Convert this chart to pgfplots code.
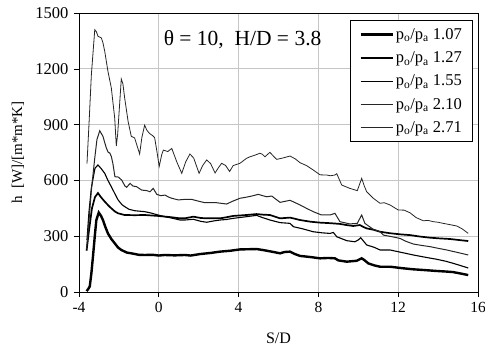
\documentclass[border=0pt]{standalone}
\usepackage{pgfplots}
\pgfplotsset{compat=1.18}
\usepackage{fontspec}
\setmainfont{Liberation Serif}
\begin{document}
\begin{tikzpicture}
\path[use as bounding box] (-79pt,-62pt) rectangle (406pt,292pt);
\begin{axis}[
  at={(0pt,0pt)}, anchor=south west,
  scale only axis, width=399pt, height=279pt,
  xmin=-4, xmax=16, ymin=0, ymax=1500,
  xtick={-4,0,4,8,12,16}, xticklabels={-4,0,4,8,12,16},
  ytick={0,300,600,900,1200,1500}, yticklabels={0,300,600,900,1200,1500},
  tick align=outside, major tick length=5pt,
  tick style={black, line width=0.6pt},
  xtick pos=bottom, ytick pos=left,
  grid=major, major grid style={gray!45, line width=0.7pt},
  axis line style={black, line width=0.8pt},
  xticklabel style={font=\fontsize{15.5}{17}\selectfont, yshift=-2pt},
  yticklabel style={font=\fontsize{16.5}{18}\selectfont, xshift=-2pt},
  xlabel={S/D}, ylabel={h\ \ [W]/[m*m*K]},
  every axis x label/.style={at={(axis description cs:0.5,-0.165)}, anchor=center, font=\fontsize{16}{18}\selectfont},
  every axis y label/.style={at={(axis description cs:-0.153,0.5)}, anchor=center, rotate=90, font=\fontsize{15}{17}\selectfont},
  legend style={at={(0.988,0.975)}, anchor=north east, draw=black, line width=0.8pt,
    font=\fontsize{16.5}{18}\selectfont, row sep=6.8pt, inner xsep=9pt, inner ysep=6pt,
    cells={anchor=west}},
  legend cell align=left,
  legend image code/.code={\draw[#1] (0pt,0pt) -- (32pt,0pt);},
]
\addplot[black, line width=2.4pt] coordinates {
(-3.62,5)(-3.55,14)(-3.46,30)(-3.38,100)(-3.3,190)(-3.2,310)(-3.13,387)(-3.01,427)
(-2.9,410)(-2.8,387)(-2.68,350)(-2.55,315)(-2.38,285)(-2.21,262)(-2.05,240)(-1.88,226)
(-1.6,212)(-1.38,208)(-1.0,200)(-0.71,199)(-0.3,200)(0.0,196)(0.29,199)(0.8,197)
(1.3,199)(1.6,196)(2.07,204)(2.6,210)(3.07,217)(3.6,222)(4.07,229)(4.5,230)(4.9,231)
(5.2,226)(5.41,222)(5.8,214)(6.08,208)(6.3,215)(6.58,217)(6.8,205)(7.08,194)(7.6,188)
(8.08,181)(8.5,183)(8.83,181)(9.0,170)(9.42,163)(9.92,168)(10.17,181)(10.3,172)(10.5,154)
(10.8,143)(11.09,136)(11.59,136)(12.2,128)(12.76,122)(13.3,118)(13.93,113)(14.4,110)
(14.76,107)(15.1,100)(15.51,91)};
\addlegendentry{p\textsubscript{o}/p\textsubscript{a} 1.07}
\addplot[black, line width=1.7pt] coordinates {
(-3.62,222)(-3.5,330)(-3.35,450)(-3.2,510)(-3.05,532)(-2.9,510)(-2.71,486)(-2.5,462)
(-2.38,450)(-2.2,433)(-2.04,423)(-1.71,414)(-1.2,413)(-0.71,414)(-0.04,409)(0.63,402)
(1.06,396)(1.3,396)(1.73,405)(2.1,398)(2.4,396)(3.07,396)(3.4,402)(3.73,409)(4.4,414)
(4.9,419)(5.2,416)(5.57,414)(6.08,396)(6.58,400)(7.08,387)(7.6,378)(8.08,373)(8.6,370)
(9.08,366)(9.4,360)(9.75,355)(10.08,360)(10.25,350)(10.42,342)(10.75,335)(11.09,324)
(11.59,316)(12.1,310)(12.59,306)(13.1,298)(13.59,292)(14.1,288)(14.59,285)(15.0,280)(15.51,274)};
\addlegendentry{p\textsubscript{o}/p\textsubscript{a} 1.27}
\addplot[black, line width=1.1pt] coordinates {
(-3.6,280)(-3.5,430)(-3.38,560)(-3.2,665)(-3.05,683)(-2.9,665)(-2.71,638)(-2.55,600)
(-2.38,566)(-2.2,528)(-2.04,495)(-1.85,470)(-1.71,459)(-1.5,445)(-1.21,437)(-0.71,432)
(-0.4,425)(-0.04,414)(0.3,405)(0.63,398)(1.06,387)(1.3,387)(1.73,391)(2.1,380)(2.4,375)
(2.75,382)(3.07,387)(3.4,390)(3.73,396)(4.4,405)(4.9,412)(5.2,400)(5.57,387)(6.08,373)
(6.58,369)(6.75,351)(7.2,340)(7.74,324)(8.2,318)(8.58,315)(8.75,320)(8.92,297)(9.42,276)
(9.83,270)(10.0,280)(10.12,292)(10.25,275)(10.42,253)(10.8,240)(11.09,226)(11.59,226)
(12.2,212)(12.76,199)(13.3,188)(13.93,176)(14.4,165)(14.76,154)(15.1,143)(15.51,129)};
\addlegendentry{p\textsubscript{o}/p\textsubscript{a} 1.55}
\addplot[black!85, line width=1.0pt] coordinates {
(-3.62,230)(-3.5,380)(-3.38,548)(-3.21,720)(-3.1,820)(-2.96,867)(-2.8,837)(-2.63,774)
(-2.53,750)(-2.46,748)(-2.38,729)(-2.3,690)(-2.2,620)(-2.03,618)(-1.86,602)(-1.7,570)
(-1.61,563)(-1.44,584)(-1.3,570)(-1.11,566)(-0.86,548)(-0.6,545)(-0.44,539)(-0.28,557)
(-0.1,525)(0.1,518)(0.31,521)(0.5,510)(0.65,504)(0.98,495)(1.3,498)(1.65,498)(2.0,488)
(2.32,480)(2.9,480)(3.4,473)(3.7,488)(4.07,504)(4.4,510)(4.66,516)(4.99,525)(5.2,518)
(5.41,512)(5.66,516)(6.08,482)(6.58,493)(7.08,468)(7.4,450)(7.74,432)(8.16,414)(8.58,414)
(8.83,423)(9.08,378)(9.58,366)(9.95,369)(10.1,400)(10.17,414)(10.33,369)(10.75,337)
(11.09,324)(11.26,306)(11.7,297)(12.09,288)(12.4,272)(12.76,258)(13.2,250)(13.59,244)
(14.0,235)(14.43,226)(15.0,212)(15.51,199)};
\addlegendentry{p\textsubscript{o}/p\textsubscript{a} 2.10}
\addplot[black!85, line width=0.8pt] coordinates {
(-3.6,690)(-3.5,900)(-3.38,1168)(-3.21,1410)(-3.13,1400)(-3.05,1375)(-2.88,1366)(-2.8,1340)
(-2.71,1294)(-2.55,1187)(-2.38,1097)(-2.21,935)(-2.13,785)(-2.06,850)(-2.01,935)(-1.88,1145)
(-1.8,1120)(-1.71,1043)(-1.54,918)(-1.38,837)(-1.21,828)(-1.1,790)(-0.96,742)(-0.85,830)
(-0.71,897)(-0.6,870)(-0.46,852)(-0.3,840)(-0.21,830)(-0.1,760)(0.02,675)(0.15,740)
(0.23,763)(0.45,755)(0.65,772)(0.9,700)(1.15,638)(1.35,700)(1.56,742)(1.75,720)(2.02,638)
(2.2,680)(2.4,710)(2.6,690)(2.82,640)(3.0,670)(3.15,692)(3.35,680)(3.55,648)(3.73,680)
(4.07,692)(4.4,719)(4.57,727)(4.8,735)(5.07,746)(5.2,740)(5.32,727)(5.57,751)(5.75,730)
(5.91,713)(6.2,720)(6.58,731)(6.85,715)(7.08,695)(7.4,680)(7.74,656)(8.08,630)(8.41,629)
(8.6,625)(8.83,629)(8.92,636)(9.17,575)(9.58,557)(9.95,545)(10.1,590)(10.17,611)(10.3,570)
(10.42,539)(10.75,504)(11.09,477)(11.3,480)(11.59,468)(12.0,441)(12.3,440)(12.59,426)
(12.9,400)(13.26,383)(13.5,385)(13.76,378)(14.0,375)(14.26,369)(14.6,362)(14.93,355)
(15.2,340)(15.51,315)};
\addlegendentry{p\textsubscript{o}/p\textsubscript{a} 2.71}
\node[font=\fontsize{21.5}{24}\selectfont] at (rel axis cs:0.41,0.903) {θ = 10,\ \ H/D = 3.8};
\end{axis}
\end{tikzpicture}
\end{document}
